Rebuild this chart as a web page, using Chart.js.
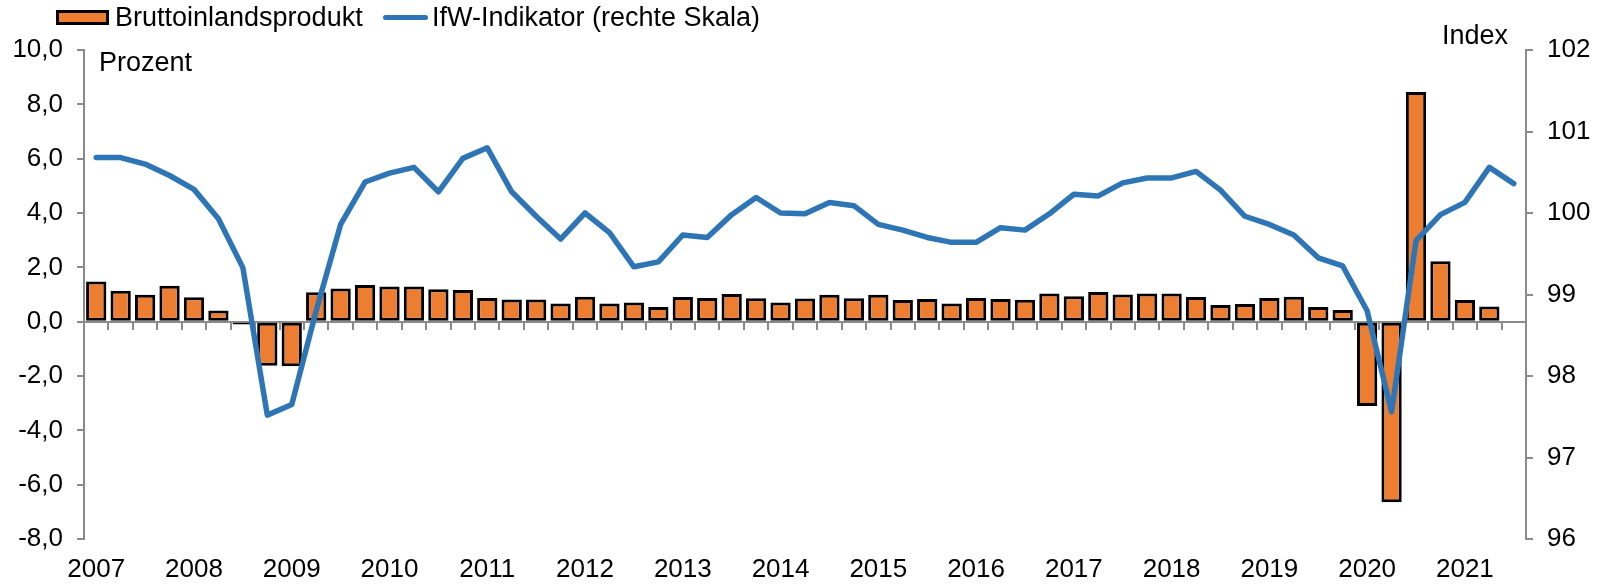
<!DOCTYPE html>
<html lang="de">
<head>
<meta charset="utf-8">
<title>BIP und IfW-Indikator</title>
<script src="https://cdn.jsdelivr.net/npm/chart.js@4.4.1/dist/chart.umd.min.js"></script>
<style>
    html, body { margin: 0; padding: 0; background: #fff; }
    #wrap { position: relative; width: 1604px; height: 585px; font-family: "Liberation Sans", Arial, sans-serif; }
    #chart { position: absolute; left: 0; top: 0; }
    .lg { position: absolute; top: 4px; font-size: 27px; line-height: 27px; color: #000; white-space: nowrap; }
    .lg-box { position: absolute; left: 56px; top: 10px; width: 53px; height: 15px; box-sizing: border-box; background: #ED7D31; border: 3px solid #000; }
    .lg-line { position: absolute; left: 383px; top: 15px; width: 45px; height: 5px; border-radius: 3px; background: #2E75B6; }
</style>
</head>
<body>
<div id="wrap">
    <canvas id="chart" width="1604" height="585"></canvas>
    <div class="lg-box"></div>
    <div class="lg" style="left:115px;">Bruttoinlandsprodukt</div>
    <div class="lg-line"></div>
    <div class="lg" style="left:432px;">IfW-Indikator (rechte Skala)</div>
</div>
<script>
// Quartale 2007 Q1 bis 2021 Q3
const years = ['2007', '2008', '2009', '2010', '2011', '2012', '2013', '2014',
               '2015', '2016', '2017', '2018', '2019', '2020', '2021'];
const quartersLastYear = 3;

// Bruttoinlandsprodukt, Veränderung gegenüber Vorquartal in Prozent (linke Skala)
const gdp = [
    1.48, 1.14, 0.99, 1.32, 0.9, 0.41, -0.1, -1.62, -1.64, 1.08,
    1.22, 1.35, 1.29, 1.29, 1.19, 1.17, 0.87, 0.82, 0.82, 0.67,
    0.92, 0.67, 0.71, 0.54, 0.91, 0.87, 1.02, 0.86, 0.71, 0.85,
    0.99, 0.86, 0.99, 0.8, 0.83, 0.67, 0.87, 0.83, 0.81, 1.04,
    0.94, 1.09, 1.0, 1.04, 1.04, 0.91, 0.61, 0.65, 0.87, 0.92,
    0.54, 0.43, -3.1, -6.65, 8.45, 2.22, 0.8, 0.56, null
];

// IfW-Indikator, Index (rechte Skala)
const ifw = [
    100.68, 100.68, 100.60, 100.46, 100.29, 99.93, 99.33, 97.52, 97.65, 98.80,
    99.86, 100.38, 100.49, 100.56, 100.26, 100.67, 100.80, 100.26, 99.96, 99.68,
    100.00, 99.76, 99.34, 99.40, 99.73, 99.70, 99.98, 100.19, 100.00, 99.99,
    100.13, 100.09, 99.86, 99.79, 99.70, 99.64, 99.64, 99.82, 99.79, 99.99,
    100.23, 100.21, 100.37, 100.43, 100.43, 100.51, 100.28, 99.96, 99.86, 99.73,
    99.45, 99.35, 98.80, 97.56, 99.66, 99.98, 100.13, 100.56, 100.36
];

const leftTicks = { min: -8, max: 10, step: 2 };
const rightTicks = { min: 96, max: 102, step: 1 };

// one label per quarter, year only on Q1
const labels = [];
years.forEach((y, i) => {
    const n = i === years.length - 1 ? quartersLastYear : 4;
    for (let q = 0; q < n; q++) labels.push(q === 0 ? y : '');
});

const FONT = '"Liberation Sans", Arial, sans-serif';
const AXIS_GREY = '#8a8a8a';
Chart.defaults.font.family = FONT;
Chart.defaults.font.size = 26;
Chart.defaults.color = '#000';

// "Prozent" / "Index" captions next to the axes
const axisCaptions = {
    id: 'axisCaptions',
    afterDraw(chart) {
        const { ctx, chartArea } = chart;
        ctx.save();
        ctx.font = '27px ' + FONT;
        ctx.fillStyle = '#000';
        ctx.textBaseline = 'middle';
        ctx.textAlign = 'left';
        ctx.fillText('Prozent', chartArea.left + 15, chartArea.top + 14);
        ctx.textAlign = 'right';
        ctx.fillText('Index', chartArea.right - 18, chartArea.top - 13);
        ctx.restore();
    }
};

const axisGrid = { drawOnChartArea: false, drawTicks: true, tickLength: 7, color: AXIS_GREY, lineWidth: 2 };

new Chart(document.getElementById('chart'), {
    type: 'bar',
    data: {
        labels,
        datasets: [
            {
                type: 'line',
                label: 'IfW-Indikator (rechte Skala)',
                data: ifw,
                xAxisID: 'x',
                yAxisID: 'y1',
                borderColor: '#2E75B6',
                borderWidth: 5.5,
                borderJoinStyle: 'round',
                borderCapStyle: 'round',
                pointRadius: 0,
                tension: 0,
                order: 0
            },
            {
                type: 'bar',
                label: 'Bruttoinlandsprodukt',
                data: gdp,
                xAxisID: 'x',
                yAxisID: 'y',
                backgroundColor: '#ED7D31',
                borderColor: '#000',
                borderWidth: 3,
                borderSkipped: false,
                barPercentage: 0.83,
                categoryPercentage: 1,
                order: 1
            }
        ]
    },
    options: {
        responsive: false,
        animation: false,
        layout: { padding: { top: 50, left: 0, right: 0, bottom: 0 } },
        plugins: { legend: { display: false }, tooltip: { enabled: false } },
        scales: {
            x: {
                type: 'category',
                position: { y: 0 },
                offset: true,
                grid: { ...axisGrid, offset: true },
                border: { color: AXIS_GREY, width: 2 },
                ticks: { display: false }
            },
            xb: {
                type: 'category',
                position: 'bottom',
                offset: true,
                grid: { display: false },
                border: { display: false },
                ticks: { autoSkip: false, maxRotation: 0, padding: 7 },
                afterFit(scale) { scale.height = 46; }
            },
            y: {
                position: 'left',
                min: leftTicks.min,
                max: leftTicks.max,
                grid: axisGrid,
                border: { color: AXIS_GREY, width: 2 },
                ticks: {
                    stepSize: leftTicks.step,
                    padding: 14,
                    callback: v => v.toFixed(1).replace('.', ',')
                },
                afterFit(scale) { scale.width = 84; }
            },
            y1: {
                position: 'right',
                min: rightTicks.min,
                max: rightTicks.max,
                grid: axisGrid,
                border: { color: AXIS_GREY, width: 2 },
                ticks: { stepSize: rightTicks.step, padding: 14 },
                afterFit(scale) { scale.width = 78; }
            }
        }
    },
    plugins: [axisCaptions]
});
</script>
</body>
</html>
